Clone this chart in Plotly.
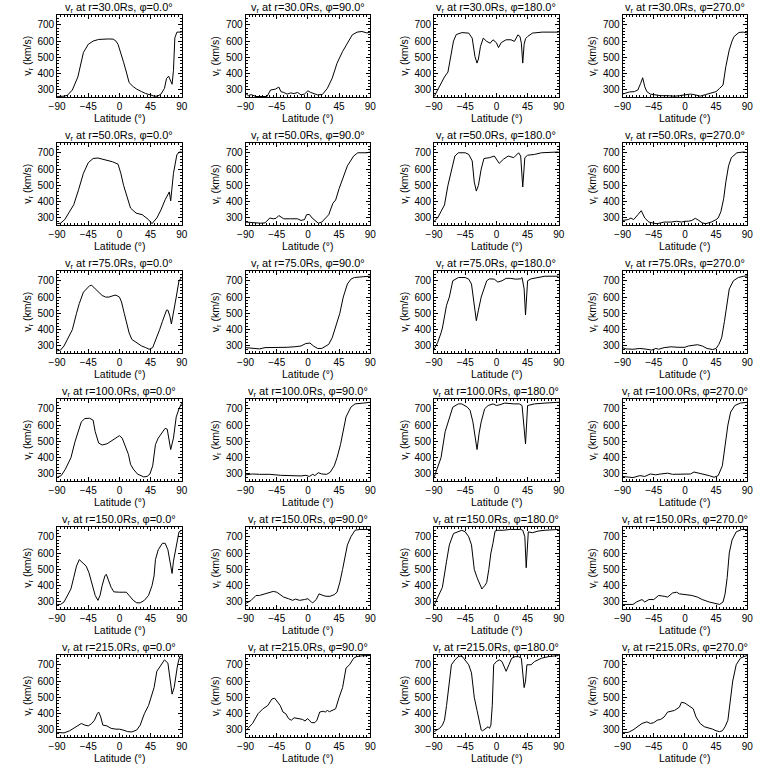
import plotly.graph_objects as go
from plotly.subplots import make_subplots

radii = [30.0, 50.0, 75.0, 100.0, 150.0, 215.0]
phis = [0.0, 90.0, 180.0, 270.0]
x_ticks = [-90, -45, 0, 45, 90]
y_ticks = [300, 400, 500, 600, 700]
y_range = [257, 760]

# ---- r = 30 Rs ----
lat_30_0 = [-90,-80,-75,-68,-60,-52,-45,-38,-30,-24,-16,-9,-5,-2,2,6,10,14,20,25,32,38,45,50,55,60,65,68,71,74,76,78,80,83,90]
v_30_0 = [260,262,268,300,380,530,580,600,610,612,613,612,600,580,530,470,410,345,320,305,290,278,270,262,262,275,310,370,385,360,335,420,620,655,655]
lat_30_90 = [-90,-86,-82,-75,-65,-59,-54,-47,-42,-39,-35,-30,-25,-20,-15,-10,-5,0,4,8,14,21,28,35,42,50,57,64,71,78,85,90]
v_30_90 = [280,265,272,260,260,260,300,305,318,290,285,275,282,278,285,270,275,295,285,280,270,273,310,372,464,536,587,638,655,659,650,655]
lat_30_180 = [-90,-85,-80,-75,-70,-66,-62,-58,-50,-40,-35,-31,-28,-26,-23,-19,-14,-9,-5,0,3,7,14,21,26,31,34,36,38,40,42,45,52,66,90]
v_30_180 = [259,300,340,380,410,500,600,640,652,649,618,505,465,490,567,618,598,587,608,590,560,591,608,608,598,638,628,587,465,580,615,628,649,655,655]
lat_30_270 = [-90,-85,-80,-73,-68,-64,-61,-58,-55,-50,-43,-35,-25,-15,-8,0,8,15,22,30,40,45,50,55,59,64,68,71,78,84,90]
v_30_270 = [275,280,288,290,300,340,375,320,290,275,269,265,265,262,265,268,275,270,262,272,285,290,310,330,443,546,600,628,653,655,650]

# ---- r = 50 Rs ----
lat_50_0 = [-90,-85,-79,-73,-66,-59,-52,-45,-38,-31,-24,-17,-10,-2,2,6,10,16,24,33,42,47,54,60,66,70,72,74,78,83,87,90]
v_50_0 = [265,268,290,330,381,473,574,639,665,668,660,650,645,630,574,500,440,361,330,320,290,265,300,350,412,450,460,405,574,690,705,705]
lat_50_90 = [-90,-84,-75,-68,-62,-55,-50,-46,-42,-35,-25,-15,-10,-5,-2,2,6,10,15,20,25,30,36,40,45,51,57,66,72,85,90]
v_50_90 = [275,272,272,268,270,300,295,298,315,295,295,295,285,290,320,322,300,285,268,275,300,320,390,410,480,550,620,680,700,700,705]
lat_50_180 = [-90,-85,-80,-75,-70,-65,-60,-55,-45,-40,-35,-32,-29,-26,-22,-18,-10,-3,4,10,17,25,32,35,38,41,45,55,65,90]
v_50_180 = [280,300,340,380,500,600,680,700,700,690,650,520,465,500,600,665,670,680,635,660,680,670,700,680,490,670,685,690,700,705]
lat_50_270 = [-90,-82,-78,-74,-68,-63,-58,-52,-45,-40,-30,-20,-12,-5,0,5,10,15,20,25,30,38,45,48,52,56,59,63,67,75,85,90]
v_50_270 = [285,290,300,290,320,345,300,275,268,265,275,275,280,275,280,280,285,298,285,270,265,275,290,300,340,420,520,620,670,700,705,700]

# ---- r = 75 Rs ----
lat_75_0 = [-90,-85,-80,-74,-68,-62,-58,-52,-48,-43,-40,-35,-30,-25,-20,-15,-8,-5,0,3,7,10,14,18,25,32,38,43,48,52,58,62,66,68,70,73,75,78,82,86,90]
v_75_0 = [270,275,300,350,400,500,560,630,650,670,672,650,630,610,600,600,610,612,600,570,500,440,380,340,320,300,290,280,290,330,400,450,500,520,520,480,435,500,600,700,720]
lat_75_90 = [-90,-80,-70,-62,-50,-30,-20,-10,-3,3,8,14,20,25,30,35,42,46,51,57,62,67,80,90]
v_75_90 = [290,285,282,290,290,292,295,300,315,318,300,285,285,295,310,350,450,500,600,680,710,720,725,728]
lat_75_180 = [-90,-85,-80,-78,-72,-68,-63,-55,-45,-40,-36,-32,-29,-26,-22,-18,-14,-10,-3,2,8,14,20,28,35,37,40,42,45,50,60,70,90]
v_75_180 = [280,320,380,410,550,600,700,720,720,710,680,550,455,520,600,650,700,712,710,692,700,715,715,710,712,720,650,490,700,712,720,728,728]
lat_75_270 = [-90,-85,-75,-65,-55,-48,-42,-38,-30,-20,-10,0,5,12,18,25,32,40,45,49,53,57,60,64,70,77,85,90]
v_75_270 = [290,282,280,285,280,275,285,280,290,295,292,292,300,305,308,300,285,278,285,310,350,450,550,650,700,720,728,730]

# ---- r = 100 Rs ----
lat_100_0 = [-90,-84,-78,-70,-64,-60,-55,-50,-43,-38,-35,-30,-25,-18,-12,-5,0,4,8,13,16,20,26,30,35,40,44,48,52,56,62,66,69,72,74,78,82,86,90]
v_100_0 = [280,290,330,400,500,560,620,640,642,630,560,490,478,485,500,520,535,520,480,420,360,330,300,290,282,285,300,350,480,520,560,580,575,500,450,520,650,700,735]
lat_100_90 = [-90,-80,-70,-55,-40,-25,-10,-3,2,7,10,15,20,27,32,38,42,47,52,55,62,68,80,90]
v_100_90 = [295,300,298,298,292,290,288,292,285,298,290,308,300,298,310,350,400,480,600,650,710,730,735,740]
lat_100_180 = [-90,-84,-80,-74,-68,-63,-55,-50,-42,-38,-34,-31,-28,-25,-22,-17,-12,-5,0,5,12,25,33,37,40,42,45,55,70,90]
v_100_180 = [280,350,400,560,650,710,730,730,710,690,620,520,450,550,620,700,720,730,720,725,735,730,730,720,600,485,720,730,735,740]
lat_100_270 = [-90,-82,-75,-65,-58,-50,-42,-35,-25,-18,-10,0,8,13,20,28,35,42,48,54,57,62,66,72,80,90]
v_100_270 = [285,280,278,290,285,300,295,300,305,298,300,298,300,312,305,300,290,280,290,350,450,600,680,720,735,740]

# ---- r = 150 Rs ----
lat_150_0 = [-90,-85,-80,-75,-70,-66,-62,-58,-53,-48,-44,-40,-35,-31,-28,-25,-21,-19,-16,-12,-8,-4,0,6,10,14,20,25,30,36,42,47,50,52,56,62,66,70,73,76,78,82,86,90]
v_150_0 = [285,285,300,340,380,450,520,560,540,520,480,420,340,310,340,400,460,470,440,390,362,360,360,360,360,340,310,295,295,310,340,400,460,560,620,660,660,620,540,475,550,650,730,740]
lat_150_90 = [-90,-82,-75,-70,-62,-50,-45,-40,-35,-28,-22,-18,-12,-5,0,5,7,12,16,22,26,32,38,42,46,50,54,57,62,68,75,90]
v_150_90 = [290,310,340,340,350,365,360,345,330,320,310,318,310,315,320,300,295,315,350,340,335,335,345,360,420,500,600,650,700,740,745,745]
lat_150_180 = [-90,-84,-78,-72,-68,-62,-56,-50,-45,-40,-36,-32,-28,-24,-21,-17,-14,-11,-8,-5,-2,2,10,20,35,38,41,43,46,52,60,70,90]
v_150_180 = [280,330,390,550,650,720,730,740,730,700,650,500,450,410,380,400,420,500,600,660,735,740,740,745,745,740,700,510,730,725,735,740,745]
lat_150_270 = [-90,-75,-70,-62,-58,-52,-45,-38,-30,-25,-18,-12,-8,0,10,18,25,35,45,50,55,58,61,64,68,74,82,90]
v_150_270 = [285,285,300,315,300,315,315,340,335,330,355,360,350,345,340,330,315,300,288,285,300,350,450,600,680,730,745,745]

# ---- r = 215 Rs ----
lat_215_0 = [-90,-80,-72,-62,-55,-50,-45,-40,-36,-32,-30,-27,-24,-18,-12,-5,0,5,12,18,25,30,36,42,46,50,54,60,65,70,73,76,79,84,87,90]
v_215_0 = [285,282,295,320,340,330,325,340,360,400,410,380,330,325,310,305,305,300,290,288,300,330,400,450,500,560,660,700,730,710,620,520,560,700,750,755]
lat_215_90 = [-90,-85,-80,-72,-65,-58,-52,-48,-45,-40,-36,-32,-28,-24,-20,-12,-8,-4,-1,2,5,10,13,17,22,25,28,31,35,40,45,50,55,60,66,70,78,90]
v_215_90 = [295,320,340,400,430,450,490,495,480,450,410,400,370,360,375,370,365,355,370,360,345,345,360,410,415,410,420,412,420,430,500,560,680,700,740,750,755,757]
lat_215_180 = [-90,-82,-78,-75,-72,-68,-65,-60,-55,-50,-45,-40,-36,-32,-28,-25,-22,-20,-16,-12,-10,-8,-6,-4,0,4,8,12,14,18,22,27,32,36,39,40,42,44,50,55,65,75,90]
v_215_180 = [290,310,330,360,450,600,700,730,750,755,730,700,650,500,420,350,300,295,310,320,310,330,450,700,720,730,720,680,660,700,740,750,750,740,600,560,600,700,700,720,740,750,757]
lat_215_270 = [-90,-82,-75,-68,-62,-55,-50,-45,-40,-35,-30,-25,-20,-15,-8,-5,0,5,12,16,22,28,33,40,45,50,54,58,62,65,69,74,80,85,90]
v_215_270 = [285,285,300,320,340,350,340,345,360,365,380,410,415,420,440,470,465,450,430,380,340,320,315,305,295,290,295,320,360,450,600,700,740,750,757]

panels = [
    [(lat_30_0, v_30_0), (lat_30_90, v_30_90), (lat_30_180, v_30_180), (lat_30_270, v_30_270)],
    [(lat_50_0, v_50_0), (lat_50_90, v_50_90), (lat_50_180, v_50_180), (lat_50_270, v_50_270)],
    [(lat_75_0, v_75_0), (lat_75_90, v_75_90), (lat_75_180, v_75_180), (lat_75_270, v_75_270)],
    [(lat_100_0, v_100_0), (lat_100_90, v_100_90), (lat_100_180, v_100_180), (lat_100_270, v_100_270)],
    [(lat_150_0, v_150_0), (lat_150_90, v_150_90), (lat_150_180, v_150_180), (lat_150_270, v_150_270)],
    [(lat_215_0, v_215_0), (lat_215_90, v_215_90), (lat_215_180, v_215_180), (lat_215_270, v_215_270)],
]

W = H = 768
FONT = "Liberation Sans"
fig = make_subplots(rows=6, cols=4)
annotations = []

for r in range(6):
    for c in range(4):
        lat, v = panels[r][c]
        fig.add_trace(go.Scatter(x=lat, y=v, mode="lines",
                                 line=dict(color="black", width=1),
                                 showlegend=False, hoverinfo="skip"),
                      row=r + 1, col=c + 1)
        left = 50 + 192 * c
        right = 177 + 192 * c
        top = 15 + 128 * r
        bottom = top + 82
        idx = r * 4 + c + 1
        xa = "xaxis" if idx == 1 else f"xaxis{idx}"
        ya = "yaxis" if idx == 1 else f"yaxis{idx}"
        fig.layout[xa].domain = [left / W, right / W]
        fig.layout[ya].domain = [1 - bottom / H, 1 - top / H]
        cx = (left + right) / 2 / W
        annotations.append(dict(
            text=f"v<sub>r</sub> at r={radii[r]:.1f}Rs, \u03c6={phis[c]:.1f}\u00b0",
            x=cx, y=1 - (top - 7) / H, xref="paper", yref="paper",
            xanchor="center", yanchor="middle", showarrow=False,
            font=dict(family=FONT, size=11, color="black")))
        annotations.append(dict(
            text="Latitude (\u00b0)", x=cx, y=1 - (bottom + 21) / H,
            xref="paper", yref="paper", xanchor="center", yanchor="middle",
            showarrow=False, font=dict(family=FONT, size=10.5, color="black")))
        annotations.append(dict(
            text="v<sub>r</sub> (km/s)", x=(left - 30) / W,
            y=1 - (top + bottom) / 2 / H, xref="paper", yref="paper",
            xanchor="center", yanchor="middle", textangle=-90,
            showarrow=False, font=dict(family=FONT, size=10.5, color="black")))

fig.update_xaxes(range=[-90, 90], tickvals=x_ticks, ticks="inside", ticklen=4,
                 tickcolor="black", showline=True, linecolor="black", linewidth=1,
                 mirror="allticks", showgrid=False, zeroline=False,
                 tickfont=dict(family=FONT, size=10, color="black"),
                 minor=dict(ticks="inside", ticklen=2, dtick=5, tick0=-90,
                            tickcolor="black", showgrid=False))
fig.update_yaxes(range=y_range, tickvals=y_ticks, ticks="inside", ticklen=4,
                 tickcolor="black", showline=True, linecolor="black", linewidth=1,
                 mirror="allticks", showgrid=False, zeroline=False,
                 tickfont=dict(family=FONT, size=10, color="black"),
                 minor=dict(ticks="inside", ticklen=2, dtick=20, tick0=300,
                            tickcolor="black", showgrid=False))

fig.update_layout(width=W, height=H, margin=dict(l=0, r=0, t=0, b=0),
                  paper_bgcolor="white", plot_bgcolor="white",
                  annotations=annotations, showlegend=False)
fig.write_html("out.html", config={"displayModeBar": False},
               post_script="document.body.style.margin='0';document.body.style.overflow='hidden';")
